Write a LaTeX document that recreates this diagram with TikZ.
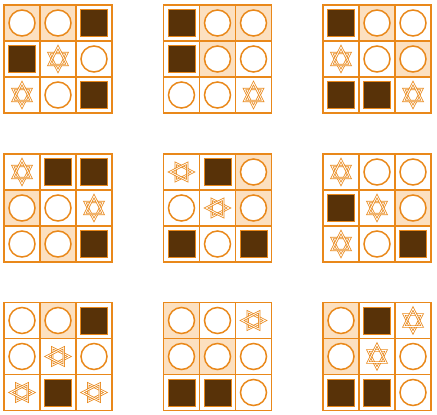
\documentclass[tikz,border=0pt]{standalone}
\definecolor{org}{RGB}{233,136,26}
\definecolor{shd}{RGB}{252,224,192}
\definecolor{drk}{RGB}{88,50,8}
\tikzset{
 gridline/.style={draw=org, line width=1.8, line cap=rect},
 circ/.style={draw=org, fill=white, line width=1.5},
 sqr/.style={draw=org, fill=drk, line width=1},
 hex/.style={draw=org, line width=0.8, double=white, double distance=0.8, line join=miter},
 shadecell/.style={fill=shd},
}
\newcommand\cellC{\draw[circ] (0,0) circle (13);}
\newcommand\cellD{\fill[shadecell] (-18,-18) rectangle (18,18); \draw[circ] (0,0) circle (13);}
\newcommand\cellS{\draw[sqr] (-13.5,-13.5) rectangle (13.5,13.5);}
\newcommand\cellT{\begin{scope}[xscale=0.88]\draw[hex] (90:12)--(210:12)--(330:12)--cycle; \draw[hex] (270:12)--(30:12)--(150:12)--cycle;\end{scope}}
\newcommand\cellR{\begin{scope}[yscale=0.88]\draw[hex] (0:11.5)--(120:11.5)--(240:11.5)--cycle; \draw[hex] (180:11.5)--(300:11.5)--(60:11.5)--cycle;\end{scope}}
\newcommand\drawgrid[3]{%
 \begin{scope}[shift={(#1,#2)}]
 \foreach \t [count=\i from 0] in {#3} {%
  \pgfmathtruncatemacro\rr{div(\i,3)}%
  \pgfmathtruncatemacro\cc{mod(\i,3)}%
  \begin{scope}[shift={(\cc*36+18,\rr*36+18)}]
   \csname cell\t\endcsname
  \end{scope}
 }
 \foreach \k in {36,72} {\draw[gridline] (\k,0)--(\k,108); \draw[gridline] (0,\k)--(108,\k);}
 \draw[gridline] (0,0) rectangle (108,108);
 \end{scope}}
\begin{document}
\begin{tikzpicture}[x=1pt,y=-1pt]
\useasboundingbox (0,0) rectangle (437,415);
\drawgrid{4}{5}{D,D,S,S,T,C,T,C,S}
\drawgrid{163.5}{5}{S,D,D,S,D,C,C,C,T}
\drawgrid{323}{5}{S,D,C,T,C,D,S,S,T}
\drawgrid{4}{154}{T,S,S,D,C,T,C,D,S}
\drawgrid{163.5}{154}{R,S,D,C,R,D,S,C,S}
\drawgrid{323}{154}{T,C,C,S,T,D,T,C,S}
\drawgrid{4}{302.5}{C,D,S,C,R,C,R,S,R}
\drawgrid{163.5}{302.5}{D,C,R,D,D,C,S,S,C}
\drawgrid{323}{302.5}{D,S,T,D,T,C,S,S,C}
\end{tikzpicture}
\end{document}
